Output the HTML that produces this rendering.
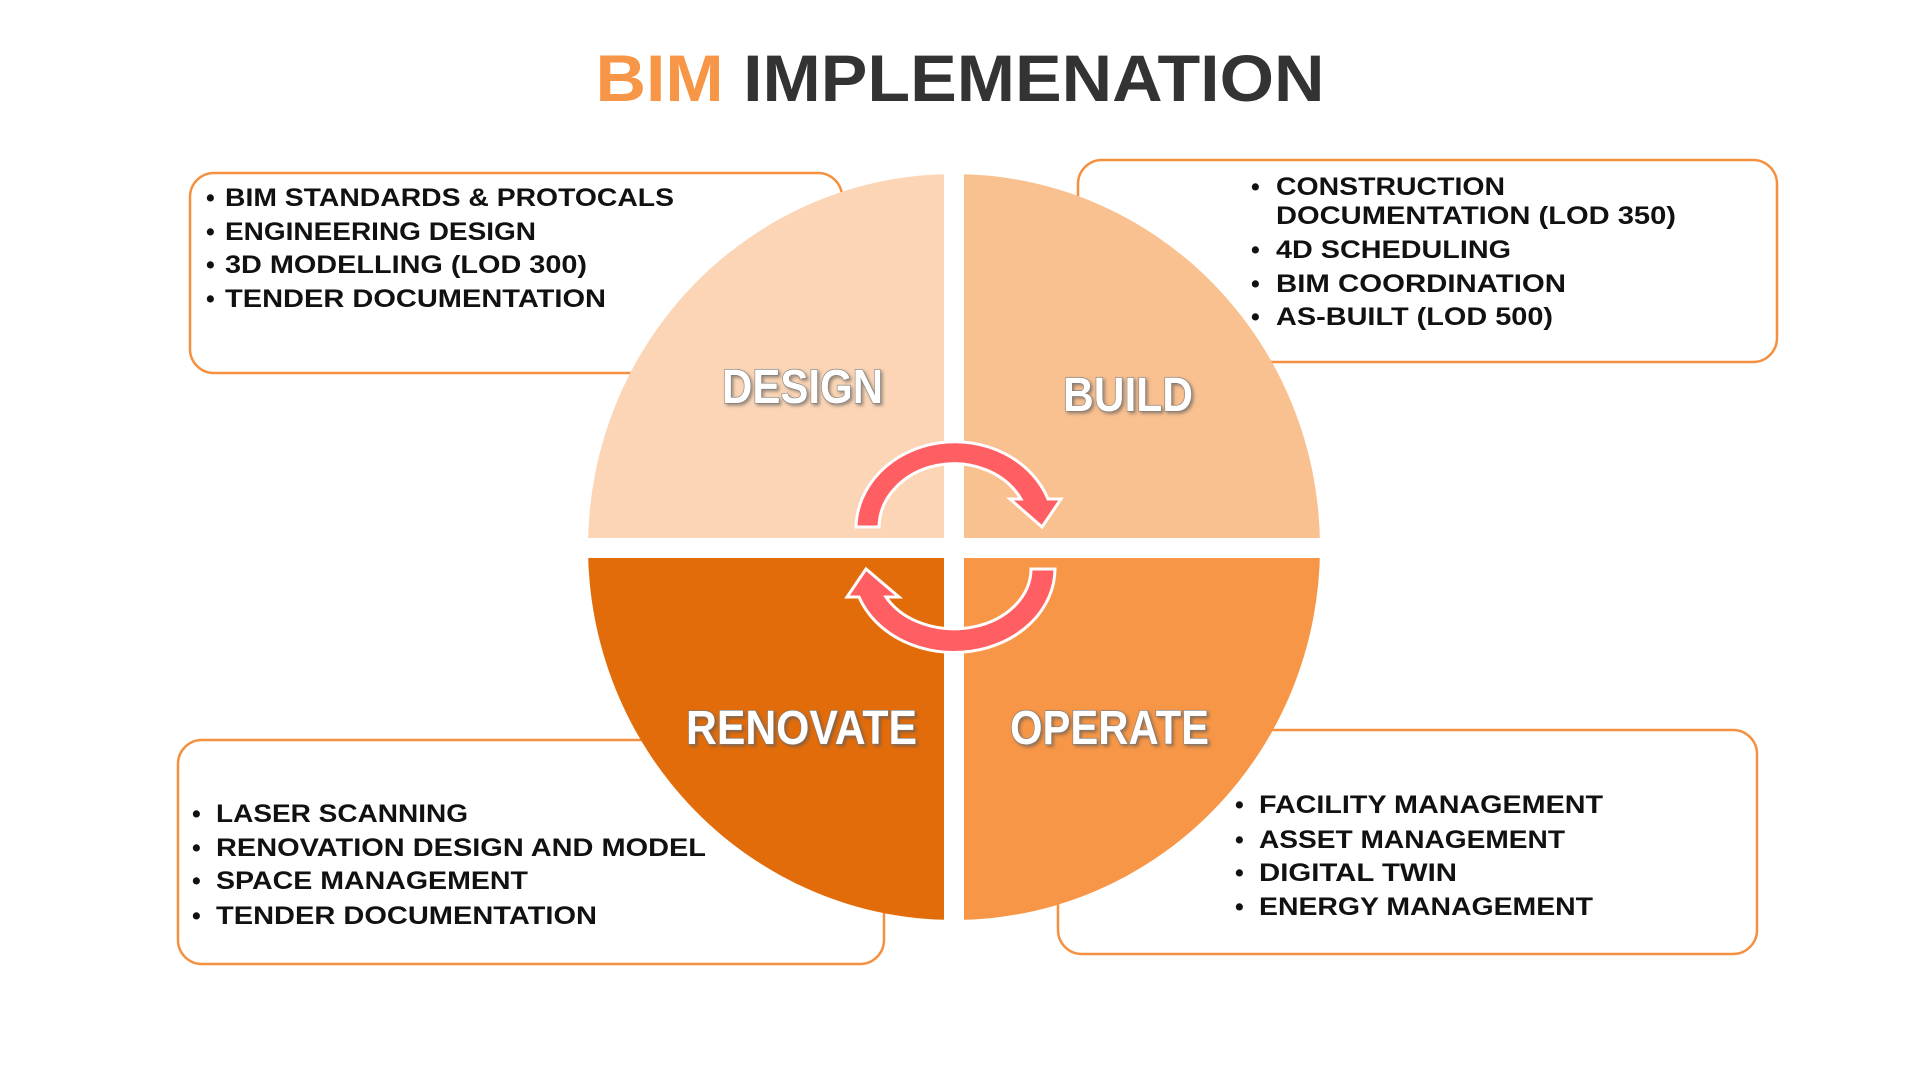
<!DOCTYPE html>
<html><head><meta charset="utf-8"><style>
html,body{margin:0;padding:0;background:#fff;}
svg{display:block;}
.t{font-family:"Liberation Sans",sans-serif;font-weight:bold;fill:#111;font-size:25px;}
.q{font-family:"Liberation Sans Narrow","Liberation Sans",sans-serif;font-weight:bold;fill:#fff;stroke:#7a7a7a;stroke-width:1.2px;font-size:48px;paint-order:stroke;}
</style></head><body>
<svg width="1920" height="1080" viewBox="0 0 1920 1080" xmlns="http://www.w3.org/2000/svg">
<defs>
<filter id="sh" x="-10%" y="-20%" width="130%" height="150%"><feDropShadow dx="2" dy="2" stdDeviation="1.5" flood-color="#555" flood-opacity="0.6"/></filter>
<clipPath id="cTL"><rect x="0" y="0" width="954" height="547"/></clipPath>
<clipPath id="cTR"><rect x="954" y="0" width="966" height="547"/></clipPath>
<clipPath id="cBL"><rect x="0" y="547" width="954" height="600"/></clipPath>
<clipPath id="cBR"><rect x="954" y="547" width="966" height="600"/></clipPath>
</defs>
<text x="960" y="101" text-anchor="middle" font-family="Liberation Sans,sans-serif" font-weight="bold" font-size="66" textLength="729" lengthAdjust="spacingAndGlyphs"><tspan fill="#f79646">BIM</tspan><tspan fill="#333"> IMPLEMENATION</tspan></text>

<g fill="#fff" stroke="#f4903f" stroke-width="2.5">
<rect x="190" y="173" width="652" height="200" rx="24"/>
<rect x="1078" y="160" width="699" height="202" rx="24"/>
<rect x="178" y="740" width="706" height="224" rx="24"/>
<rect x="1058" y="730" width="699" height="224" rx="24"/>
</g>

<ellipse cx="954" cy="547" rx="366" ry="373" fill="#fbd5b5" clip-path="url(#cTL)"/>
<ellipse cx="954" cy="547" rx="366" ry="373" fill="#f9c090" clip-path="url(#cTR)"/>
<ellipse cx="954" cy="547" rx="366" ry="373" fill="#e36c0a" clip-path="url(#cBL)"/>
<ellipse cx="954" cy="547" rx="366" ry="373" fill="#f79646" clip-path="url(#cBR)"/>
<rect x="944" y="160" width="20" height="780" fill="#fff"/>
<rect x="570" y="538" width="770" height="20" fill="#fff"/>

<g class="t">
<text x="206" y="206">•</text><text x="225" y="206" textLength="449" lengthAdjust="spacingAndGlyphs">BIM STANDARDS &amp; PROTOCALS</text>
<text x="206" y="240">•</text><text x="225" y="240" textLength="311" lengthAdjust="spacingAndGlyphs">ENGINEERING DESIGN</text>
<text x="206" y="273">•</text><text x="225" y="273" textLength="362" lengthAdjust="spacingAndGlyphs">3D MODELLING (LOD 300)</text>
<text x="206" y="307">•</text><text x="225" y="307" textLength="381" lengthAdjust="spacingAndGlyphs">TENDER DOCUMENTATION</text>

<text x="1251" y="195">•</text><text x="1276" y="195" textLength="229" lengthAdjust="spacingAndGlyphs">CONSTRUCTION</text>
<text x="1276" y="224" textLength="400" lengthAdjust="spacingAndGlyphs">DOCUMENTATION (LOD 350)</text>
<text x="1251" y="258">•</text><text x="1276" y="258" textLength="235" lengthAdjust="spacingAndGlyphs">4D SCHEDULING</text>
<text x="1251" y="292">•</text><text x="1276" y="292" textLength="290" lengthAdjust="spacingAndGlyphs">BIM COORDINATION</text>
<text x="1251" y="325">•</text><text x="1276" y="325" textLength="277" lengthAdjust="spacingAndGlyphs">AS-BUILT (LOD 500)</text>

<text x="192" y="822">•</text><text x="216" y="822" textLength="252" lengthAdjust="spacingAndGlyphs">LASER SCANNING</text>
<text x="192" y="856">•</text><text x="216" y="856" textLength="490" lengthAdjust="spacingAndGlyphs">RENOVATION DESIGN AND MODEL</text>
<text x="192" y="889">•</text><text x="216" y="889" textLength="312" lengthAdjust="spacingAndGlyphs">SPACE MANAGEMENT</text>
<text x="192" y="924">•</text><text x="216" y="924" textLength="381" lengthAdjust="spacingAndGlyphs">TENDER DOCUMENTATION</text>

<text x="1235" y="813">•</text><text x="1259" y="813" textLength="344" lengthAdjust="spacingAndGlyphs">FACILITY MANAGEMENT</text>
<text x="1235" y="848">•</text><text x="1259" y="848" textLength="306" lengthAdjust="spacingAndGlyphs">ASSET MANAGEMENT</text>
<text x="1235" y="881">•</text><text x="1259" y="881" textLength="198" lengthAdjust="spacingAndGlyphs">DIGITAL TWIN</text>
<text x="1235" y="915">•</text><text x="1259" y="915" textLength="334" lengthAdjust="spacingAndGlyphs">ENERGY MANAGEMENT</text>
</g>

<g class="q" filter="url(#sh)">
<text x="722" y="403" textLength="161" lengthAdjust="spacingAndGlyphs">DESIGN</text>
<text x="1063" y="411" textLength="130" lengthAdjust="spacingAndGlyphs">BUILD</text>
<text x="686" y="744" textLength="231" lengthAdjust="spacingAndGlyphs">RENOVATE</text>
<text x="1010" y="744" textLength="199" lengthAdjust="spacingAndGlyphs">OPERATE</text>
</g>

<g fill="#ff5e62" stroke="#fff" stroke-width="3" stroke-linejoin="miter">
<path d="M856,527 A99 87 0 0 1 1048,499 L1061,499 L1042,527 L1010,499 L1021,499 A75 64 0 0 0 879,527 Z"/>
<path d="M1055,569 A101 84 0 0 1 859,597 L847,597 L866,569 L899,597 L886,597 A77 60 0 0 0 1031,569 Z"/>
</g>
</svg>
</body></html>
